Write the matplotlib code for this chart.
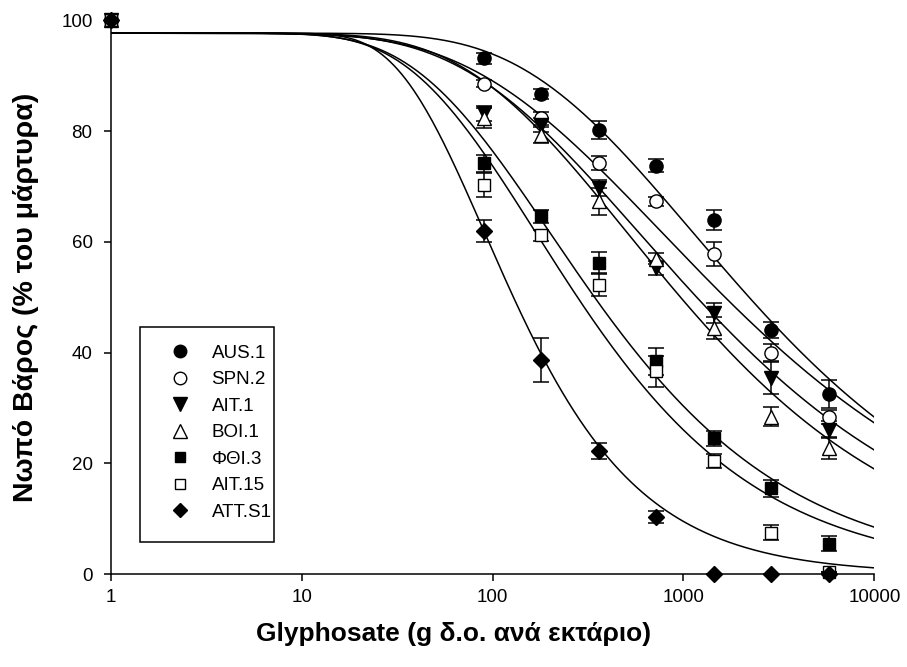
import numpy as np
import matplotlib.pyplot as plt
from matplotlib.lines import Line2D
from matplotlib.patches import Rectangle

plt.rcParams['font.family'] = ['Liberation Sans', 'DejaVu Sans']

# doses (g a.i./ha); untreated control plotted at 1
dose = [90, 180, 360, 720, 1440, 2880, 5760]
control_dose = 1
control_value = 100

names = ['AUS.1', 'SPN.2', 'AIT.1', 'BOI.1', 'ΦΘΙ.3', 'AIT.15', 'ATT.S1']

aus1 = [93.2, 86.8, 80.2, 73.8, 64.0, 44.1, 32.5]
spn2 = [88.6, 82.3, 74.3, 67.3, 57.8, 40.0, 28.4]
ait1 = [83.2, 81.1, 69.7, 55.3, 47.1, 35.4, 26.1]
boi1 = [82.3, 79.3, 67.3, 57.0, 44.4, 28.4, 22.7]
fthi3 = [74.2, 64.6, 56.2, 38.4, 24.5, 15.5, 5.5]
ait15 = [70.3, 61.2, 52.3, 36.6, 20.4, 7.5, 0.3]
atts1 = [62.0, 38.6, 22.2, 10.3, 0.0, 0.0, 0.0]

aus1_se = [1.0, 0.9, 1.7, 1.2, 1.8, 1.5, 2.5]
spn2_se = [0.6, 1.2, 1.3, 0.8, 2.2, 1.5, 1.3]
ait1_se = [1.4, 1.2, 1.4, 1.3, 1.8, 2.9, 1.5]
boi1_se = [1.8, 1.5, 2.4, 1.0, 2.0, 1.7, 2.0]
fthi3_se = [1.5, 1.2, 2.0, 2.4, 1.3, 1.5, 1.4]
ait15_se = [2.1, 1.0, 2.0, 2.8, 1.3, 1.3, 0.0]
atts1_se = [2.0, 4.0, 1.5, 1.0, 0.0, 0.0, 0.0]

# fitted dose-response curves: y = top * (1 - exp(-(ed / x) ** slope))
top = 97.7
ed = [1118, 769, 581, 505, 199, 168, 90.7]
slope = [0.489, 0.435, 0.473, 0.5135, 0.613, 0.657, 0.95]

values = [aus1, spn2, ait1, boi1, fthi3, ait15, atts1]
errors = [aus1_se, spn2_se, ait1_se, boi1_se, fthi3_se, ait15_se, atts1_se]
markers = ['o', 'o', 'v', '^', 's', 's', 'D']
fills = ['black', 'white', 'black', 'white', 'black', 'white', 'black']
sizes = [9.5, 9.5, 10, 10, 8, 8, 8]

fig = plt.figure(figsize=(9.07, 6.67), dpi=100)
ax = fig.add_axes([0.122, 0.1394, 0.842, 0.8299])

xs = np.logspace(0, 4, 400)
for i in range(len(names)):
    ys = top * (1 - np.exp(-(ed[i] / xs) ** slope[i]))
    ax.plot(xs, ys, color='black', lw=1.1, zorder=2)

for i in range(len(names)):
    ax.errorbar(dose, values[i], yerr=errors[i], fmt='none', ecolor='black',
                elinewidth=1.1, capsize=5.5, capthick=1.1, zorder=3, clip_on=False)
    ax.plot([control_dose] + dose, [control_value] + values[i], ls='none',
            marker=markers[i], ms=sizes[i], mfc=fills[i], mec='black', mew=1.0,
            zorder=4, clip_on=False)

ax.set_xscale('log')
ax.set_xlim(1, 10000)
ax.set_ylim(0, 100)
ax.set_xticks([1, 10, 100, 1000, 10000])
ax.set_xticklabels(['1', '10', '100', '1000', '10000'])
ax.minorticks_off()
ax.set_yticks([0, 20, 40, 60, 80, 100])
ax.spines['top'].set_visible(False)
ax.spines['right'].set_visible(False)
for s in ['left', 'bottom']:
    ax.spines[s].set_linewidth(1.1)
ax.tick_params(direction='out', length=5, width=1.1, labelsize=13.5)
ax.tick_params(axis='y', pad=8)
ax.tick_params(axis='x', pad=6)

# x title is centred on the figure, not on the axes
ax.set_xlabel('Glyphosate (g δ.ο. ανά εκτάριο)', fontsize=19, fontweight='bold',
              labelpad=11, x=0.449)
ax.set_ylabel('Νωπό Βάρος (% του μάρτυρα)', fontsize=20.5, fontweight='bold', labelpad=16)

# legend: markers only, with a plain rectangular frame
handles = [Line2D([], [], ls='none', marker=markers[i], ms=sizes[i] - 0.5,
                  mfc=fills[i], mec='black', mew=1.0) for i in range(len(names))]
ax.legend(handles, names, loc='upper left', bbox_to_anchor=(0.078, 0.414),
          borderaxespad=0, borderpad=0, fontsize=13.5, frameon=False,
          handlelength=1.0, handletextpad=1.2, labelspacing=0.5)
ax.add_patch(Rectangle((0.0384, 0.0578), 0.1755, 0.3884, transform=ax.transAxes,
                       fill=False, edgecolor='black', lw=1.1, zorder=5))

fig.savefig('out.png', dpi=100)
